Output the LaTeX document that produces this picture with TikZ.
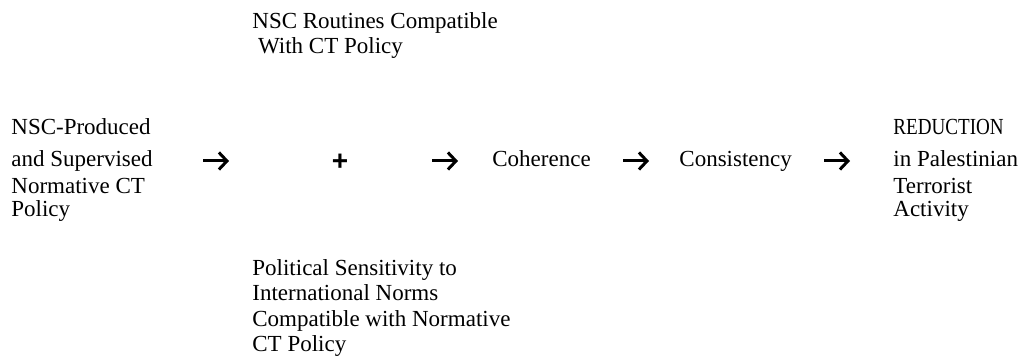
\documentclass[tikz,border=0pt]{standalone}
\usepackage{fontspec}
\setmainfont{Liberation Serif}
\setsansfont{Liberation Sans}
\usetikzlibrary{arrows.meta}
\definecolor{inkcolor}{RGB}{0,0,0}

\begin{document}
\begin{tikzpicture}[
    x=0.5pt, y=-0.5pt,
    block/.style={inner sep=0pt, anchor=base west, align=left, text=inkcolor, font=\fontsize{11.5}{13.5}\selectfont},
    term/.style={inner sep=0pt, anchor=base west, text=inkcolor, font=\fontsize{11.5}{13.5}\selectfont},
    flow/.style={-{Straight Barb[length=4pt, width=8.5pt]}, line width=1.5pt, inkcolor}
]
    \useasboundingbox (0,0) rectangle (1022,356);

    % Policy input (base anchor sits on the last line)
    \node[block] (policy) at (11,217) {NSC-Produced\\[2.5pt]and Supervised\\Normative CT\\[-2pt]Policy};

    % Two factors joined by +
    \node[block, font=\fontsize{11.5}{12.5}\selectfont] (routines) at (252,54) {NSC Routines Compatible\\\ With CT Policy};
    \node[inner sep=0pt, font=\sffamily\bfseries\fontsize{14}{14}\selectfont] (plus) at (340,162) {+};
    \node[block, font=\fontsize{11.5}{12.8}\selectfont] (sensitivity) at (252,352) {Political Sensitivity to\\International Norms\\Compatible with Normative\\CT Policy};

    % Chain of effects
    \node[term] (coherence) at (492,167) {Coherence};
    \node[term] (consistency) at (679,167) {Consistency};
    \node[block] (reduction) at (893,217) {{\addfontfeature{FakeStretch=0.83}REDUCTION}\\[2.5pt]in Palestinian\\Terrorist\\[-2pt]Activity};

    % Arrows
    \coordinate (a1s) at (203,161);
    \coordinate (a1e) at (229,161);
    \coordinate (a2s) at (432,161);
    \coordinate (a2e) at (458,161);
    \coordinate (a3s) at (623,161);
    \coordinate (a3e) at (649,161);
    \coordinate (a4s) at (824,161);
    \coordinate (a4e) at (850,161);
    \draw[flow] (a1s) -- (a1e);
    \draw[flow] (a2s) -- (a2e);
    \draw[flow] (a3s) -- (a3e);
    \draw[flow] (a4s) -- (a4e);
\end{tikzpicture}
\end{document}
